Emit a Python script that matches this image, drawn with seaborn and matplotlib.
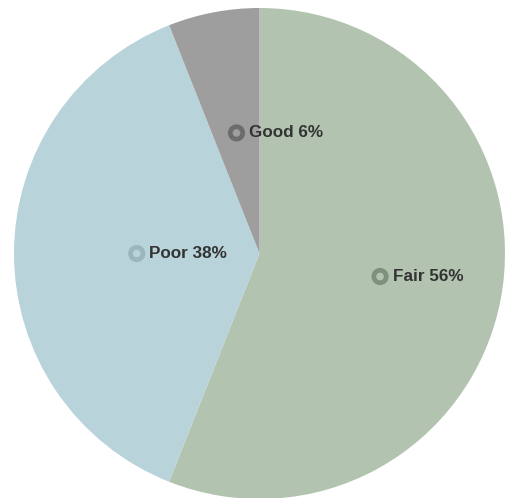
import matplotlib
matplotlib.use("Agg")
import matplotlib.pyplot as plt
import seaborn as sns
import numpy as np

# Condition shares, drawn clockwise from 12 o'clock
labels = ["Fair", "Poor", "Good"]
values = [56, 38, 6]
slice_colors = ["#b2c4b0", "#b8d3d9", "#9e9e9e"]
ring_colors = ["#7e917c", "#9bb6bc", "#6c6c6c"]

sns.set_style("white")
plt.rcParams["font.family"] = ["Liberation Sans", "DejaVu Sans"]

W, H = 506, 498
fig = plt.figure(figsize=(W / 100, H / 100), dpi=100)
ax = fig.add_axes([0, 0, 1, 1])

cx, cy, r = 259.5, H - 253.5, 245.5
wedges, _ = ax.pie(values, colors=slice_colors, startangle=90, counterclock=False,
                   radius=r, center=(cx, cy), frame=True,
                   wedgeprops=dict(linewidth=0))
ax.set_xlim(0, W)
ax.set_ylim(0, H)
ax.set_aspect("equal")
ax.axis("off")

# Label marker sits halfway along each slice's mid-angle, text to its right
for w, lab, val, rc in zip(wedges, labels, values, ring_colors):
    mid = np.deg2rad((w.theta1 + w.theta2) / 2)
    mx = cx + 0.5 * r * np.cos(mid)
    my = cy + 0.5 * r * np.sin(mid)
    ax.scatter([mx], [my], s=80, facecolors="none", edgecolors=rc,
               linewidths=3.4, zorder=3)
    ax.text(mx + 12.5, my, f"{lab} {val}%", fontsize=12.3, fontweight="bold",
            color="#333333", ha="left", va="center", zorder=4)

fig.savefig("out.png", dpi=100)
